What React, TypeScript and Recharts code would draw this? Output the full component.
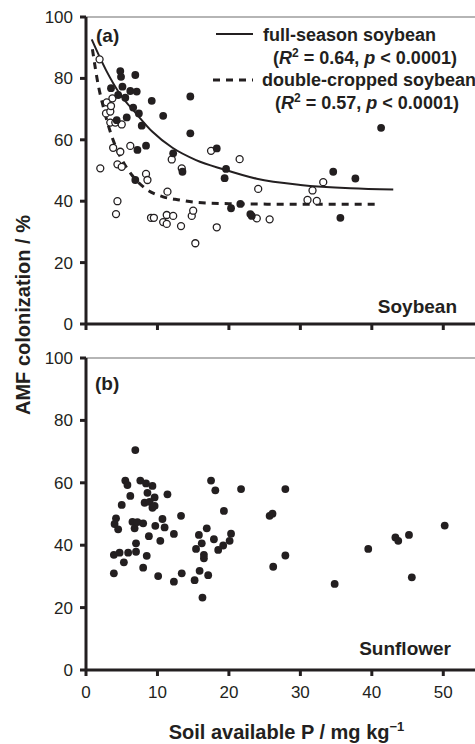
import {
  ComposedChart,
  Scatter,
  Line,
  XAxis,
  YAxis,
  ReferenceLine,
  Legend,
  Label,
} from 'recharts'

const INK = '#231f20'
const FONT = '"Liberation Sans", Arial, Helvetica, sans-serif'

const xTicks = [0, 10, 20, 30, 40, 50]
const yTicks = [0, 20, 40, 60, 80, 100]

// (a) full-season soybean, filled circles
const fullSeason = [
  { p: 3.5, amf: 76.8 }, { p: 4.3, amf: 66.4 }, { p: 4.5, amf: 74.6 }, { p: 4.8, amf: 82.4 },
  { p: 4.9, amf: 80.5 }, { p: 5.1, amf: 77.3 }, { p: 5.5, amf: 73.7 }, { p: 5.7, amf: 67.3 },
  { p: 6.2, amf: 75.9 }, { p: 6.6, amf: 70.5 }, { p: 6.9, amf: 81.1 }, { p: 6.9, amf: 46.9 },
  { p: 7.1, amf: 75.7 }, { p: 7.2, amf: 56.7 }, { p: 7.4, amf: 68.6 }, { p: 7.8, amf: 64.6 },
  { p: 8.4, amf: 58.1 }, { p: 9.2, amf: 72.7 }, { p: 10.8, amf: 67.8 }, { p: 12.2, amf: 55.6 },
  { p: 13.5, amf: 49.6 }, { p: 14.6, amf: 74.1 }, { p: 14.6, amf: 62.1 }, { p: 18.3, amf: 57.2 },
  { p: 19.6, amf: 50.5 }, { p: 19.4, amf: 47.5 }, { p: 20.3, amf: 37.7 }, { p: 21.6, amf: 39.1 },
  { p: 23.2, amf: 35.2 }, { p: 23.0, amf: 35.8 }, { p: 34.6, amf: 49.6 }, { p: 35.6, amf: 34.6 },
  { p: 37.7, amf: 47.4 }, { p: 41.3, amf: 63.9 },
]

// (a) double-cropped soybean, open circles
const doubleCropped = [
  { p: 1.9, amf: 86.2 }, { p: 2.0, amf: 50.7 }, { p: 2.8, amf: 68.6 }, { p: 2.9, amf: 72.2 },
  { p: 3.4, amf: 69.2 }, { p: 3.5, amf: 71.0 }, { p: 3.7, amf: 73.5 }, { p: 3.4, amf: 65.6 },
  { p: 4.1, amf: 65.6 }, { p: 5.0, amf: 65.0 }, { p: 3.8, amf: 57.4 }, { p: 4.8, amf: 56.1 },
  { p: 6.2, amf: 58.0 }, { p: 4.4, amf: 52.0 }, { p: 5.0, amf: 51.2 }, { p: 4.4, amf: 40.0 },
  { p: 4.2, amf: 35.8 }, { p: 8.4, amf: 48.9 }, { p: 8.6, amf: 46.9 }, { p: 9.1, amf: 34.6 },
  { p: 9.5, amf: 34.6 }, { p: 10.8, amf: 33.2 }, { p: 11.3, amf: 35.5 }, { p: 11.3, amf: 32.6 },
  { p: 11.4, amf: 43.1 }, { p: 12.0, amf: 53.6 }, { p: 12.2, amf: 35.2 }, { p: 13.3, amf: 31.9 },
  { p: 13.4, amf: 50.7 }, { p: 14.8, amf: 35.2 }, { p: 15.0, amf: 36.9 }, { p: 15.3, amf: 26.3 },
  { p: 17.5, amf: 56.4 }, { p: 18.3, amf: 31.5 }, { p: 21.5, amf: 53.7 }, { p: 24.1, amf: 44.0 },
  { p: 23.9, amf: 34.4 }, { p: 25.7, amf: 34.1 }, { p: 31.0, amf: 40.4 }, { p: 31.7, amf: 43.5 },
  { p: 32.3, amf: 40.1 }, { p: 33.2, amf: 46.2 },
]

// fitted curves
const fullSeasonFit = [
  { p: 0.8, amf: 92.7 }, { p: 2.8, amf: 82.7 }, { p: 4.7, amf: 75.1 }, { p: 7.0, amf: 68.6 },
  { p: 9.3, amf: 62.6 }, { p: 12.1, amf: 57.4 }, { p: 15.4, amf: 53.4 }, { p: 19.2, amf: 50.4 },
  { p: 23.9, amf: 47.3 }, { p: 30.0, amf: 45.3 }, { p: 37.0, amf: 44.2 }, { p: 43.0, amf: 43.8 },
]

const doubleCroppedFit = [
  { p: 0.9, amf: 89.5 }, { p: 1.7, amf: 78.0 }, { p: 2.5, amf: 70.0 }, { p: 3.4, amf: 62.6 },
  { p: 4.2, amf: 57.5 }, { p: 5.0, amf: 53.6 }, { p: 6.5, amf: 48.3 }, { p: 8.4, amf: 44.0 },
  { p: 10.7, amf: 41.5 }, { p: 13.1, amf: 40.4 }, { p: 15.4, amf: 39.6 }, { p: 20.0, amf: 39.2 },
  { p: 30.0, amf: 39.0 }, { p: 40.8, amf: 39.0 },
]

// (b) sunflower
const sunflower = [
  { p: 6.9, amf: 70.5 }, { p: 5.5, amf: 60.7 }, { p: 5.8, amf: 59.3 }, { p: 7.6, amf: 60.7 },
  { p: 8.4, amf: 59.8 }, { p: 9.3, amf: 59.0 }, { p: 6.2, amf: 55.8 }, { p: 8.6, amf: 56.8 },
  { p: 9.6, amf: 55.3 }, { p: 11.4, amf: 56.3 }, { p: 5.0, amf: 52.9 }, { p: 8.2, amf: 53.6 },
  { p: 8.9, amf: 53.9 }, { p: 9.3, amf: 52.0 }, { p: 9.6, amf: 52.6 }, { p: 4.2, amf: 48.6 },
  { p: 4.0, amf: 46.8 }, { p: 4.5, amf: 45.1 }, { p: 6.5, amf: 47.5 }, { p: 6.8, amf: 45.4 },
  { p: 7.2, amf: 47.4 }, { p: 8.0, amf: 47.0 }, { p: 9.7, amf: 46.2 }, { p: 10.7, amf: 48.4 },
  { p: 11.0, amf: 45.7 }, { p: 13.3, amf: 49.4 }, { p: 8.8, amf: 42.9 }, { p: 10.4, amf: 41.4 },
  { p: 12.3, amf: 43.6 }, { p: 7.0, amf: 40.6 }, { p: 3.9, amf: 36.9 }, { p: 4.7, amf: 37.6 },
  { p: 5.9, amf: 37.6 }, { p: 7.0, amf: 37.9 }, { p: 8.5, amf: 36.6 }, { p: 5.3, amf: 34.5 },
  { p: 8.0, amf: 32.8 }, { p: 3.9, amf: 31.0 }, { p: 10.1, amf: 30.1 }, { p: 12.3, amf: 28.3 },
  { p: 13.4, amf: 31.0 }, { p: 17.5, amf: 60.7 }, { p: 18.1, amf: 57.6 }, { p: 21.7, amf: 58.0 },
  { p: 27.9, amf: 58.0 }, { p: 19.3, amf: 51.0 }, { p: 25.7, amf: 49.4 }, { p: 26.1, amf: 50.1 },
  { p: 16.9, amf: 45.4 }, { p: 15.8, amf: 43.3 }, { p: 16.2, amf: 40.6 }, { p: 15.4, amf: 38.8 },
  { p: 17.9, amf: 41.9 }, { p: 20.3, amf: 43.7 }, { p: 20.1, amf: 41.4 }, { p: 19.2, amf: 39.9 },
  { p: 18.5, amf: 38.5 }, { p: 16.5, amf: 36.9 }, { p: 16.5, amf: 35.8 }, { p: 15.9, amf: 31.8 },
  { p: 17.1, amf: 30.4 }, { p: 15.2, amf: 28.8 }, { p: 16.3, amf: 23.2 }, { p: 27.9, amf: 36.7 },
  { p: 26.2, amf: 33.1 }, { p: 34.8, amf: 27.6 }, { p: 39.5, amf: 38.8 }, { p: 43.3, amf: 42.5 },
  { p: 43.7, amf: 41.4 }, { p: 45.2, amf: 43.3 }, { p: 45.6, amf: 29.7 }, { p: 50.2, amf: 46.3 },
]

const axisLine = { stroke: INK, strokeWidth: 3 }
const tickFont = { fontSize: 17, fill: INK, fontFamily: FONT }

const FilledDot = (props: any) => <circle cx={props.cx} cy={props.cy} r={3.9} fill={INK} />
const OpenDot = (props: any) => (
  <circle cx={props.cx} cy={props.cy} r={3.5} fill="#fff" stroke={INK} strokeWidth={1.3} />
)

const Stat = ({ r2 }: { r2: string }) => (
  <>
    (<tspan fontStyle="italic">R</tspan>
    <tspan dy={-7} fontSize={12}>2</tspan>
    <tspan dy={7}> = {r2}, </tspan>
    <tspan fontStyle="italic">p</tspan> &lt; 0.0001)
  </>
)

const SoyLegend = () => (
  <svg width={265} height={100} style={{ fontFamily: FONT, fontWeight: 700, fontSize: 18, fill: INK }}>
    <line x1={6} x2={43} y1={14} y2={14} stroke={INK} strokeWidth={2} />
    <text x={53} y={21}>full-season soybean</text>
    <text x={155} y={44} textAnchor="middle"><Stat r2="0.64" /></text>
    <line x1={3} x2={43} y1={60} y2={60} stroke={INK} strokeWidth={3} strokeDasharray="7 6" />
    <text x={52} y={66}>double-cropped soybean</text>
    <text x={157} y={89} textAnchor="middle"><Stat r2="0.57" /></text>
  </svg>
)

const XTitle = (props: any) => {
  const vb = props.viewBox || {}
  return (
    <text
      x={vb.x + vb.width / 2 + 4}
      y={vb.y + vb.height - 5}
      textAnchor="middle"
      style={{ fontFamily: FONT, fontWeight: 700, fontSize: 20, fill: INK }}
    >
      Soil available P / mg kg<tspan dy={-8} fontSize={13}>−1</tspan>
    </text>
  )
}

export default function App() {
  return (
    <div style={{ position: 'relative', width: 475, height: 744, overflow: 'hidden', fontFamily: FONT }}>
      <style>{'body{margin:0}'}</style>

      <div style={{ position: 'absolute', left: 0, top: 0 }}>
        <ComposedChart width={479} height={334} margin={{ top: 17, right: 0, bottom: 0, left: 0 }}>
          <XAxis
            type="number"
            dataKey="p"
            domain={[0, 55]}
            ticks={xTicks}
            height={10}
            tickSize={6}
            tickFormatter={() => ''}
            axisLine={axisLine}
            tickLine={axisLine}
          />
          <YAxis
            type="number"
            dataKey="amf"
            domain={[0, 100]}
            ticks={yTicks}
            width={86}
            tickSize={6}
            tickMargin={7}
            tick={tickFont}
            axisLine={axisLine}
            tickLine={axisLine}
          />
          <ReferenceLine y={100} stroke="#9d9d9d" strokeWidth={1.5} />
          <Legend
            verticalAlign="middle"
            align="center"
            content={() => <SoyLegend />}
            wrapperStyle={{ position: 'absolute', top: 20, left: 210, width: 265, height: 100 }}
          />
          <Line
            data={doubleCroppedFit}
            dataKey="amf"
            type="monotone"
            stroke={INK}
            strokeWidth={3}
            strokeDasharray="7 6"
            dot={false}
            activeDot={false}
            legendType="none"
            isAnimationActive={false}
          />
          <Line
            data={fullSeasonFit}
            dataKey="amf"
            type="monotone"
            stroke={INK}
            strokeWidth={2}
            dot={false}
            activeDot={false}
            legendType="none"
            isAnimationActive={false}
          />
          <Scatter data={doubleCropped} dataKey="amf" shape={OpenDot} isAnimationActive={false} />
          <Scatter data={fullSeason} dataKey="amf" shape={FilledDot} isAnimationActive={false} />
        </ComposedChart>
      </div>

      <div style={{ position: 'absolute', left: 0, top: 340 }}>
        <ComposedChart width={479} height={404} margin={{ top: 18, right: 0, bottom: 0, left: 0 }}>
          <XAxis
            type="number"
            dataKey="p"
            domain={[0, 55]}
            ticks={xTicks}
            height={74}
            tickSize={6}
            tickMargin={10}
            tick={tickFont}
            axisLine={axisLine}
            tickLine={axisLine}
          >
            <Label content={XTitle} />
          </XAxis>
          <YAxis
            type="number"
            dataKey="amf"
            domain={[0, 100]}
            ticks={yTicks}
            width={86}
            tickSize={6}
            tickMargin={7}
            tick={tickFont}
            axisLine={axisLine}
            tickLine={axisLine}
          />
          <ReferenceLine y={100} stroke="#9d9d9d" strokeWidth={1.5} />
          <Scatter data={sunflower} dataKey="amf" shape={FilledDot} isAnimationActive={false} />
        </ComposedChart>
      </div>

      <svg
        width={475}
        height={744}
        style={{ position: 'absolute', left: 0, top: 0, pointerEvents: 'none' }}
      >
        <g style={{ fontFamily: FONT, fontWeight: 700, fill: INK }}>
          <text transform="translate(30,315) rotate(-90)" textAnchor="middle" fontSize={20}>
            AMF colonization / %
          </text>
          <text x={96} y={42} fontSize={19}>(a)</text>
          <text x={95} y={390} fontSize={19}>(b)</text>
          <text x={457} y={313} fontSize={19} textAnchor="end">Soybean</text>
          <text x={451} y={655} fontSize={19} textAnchor="end">Sunflower</text>
        </g>
      </svg>
    </div>
  )
}
